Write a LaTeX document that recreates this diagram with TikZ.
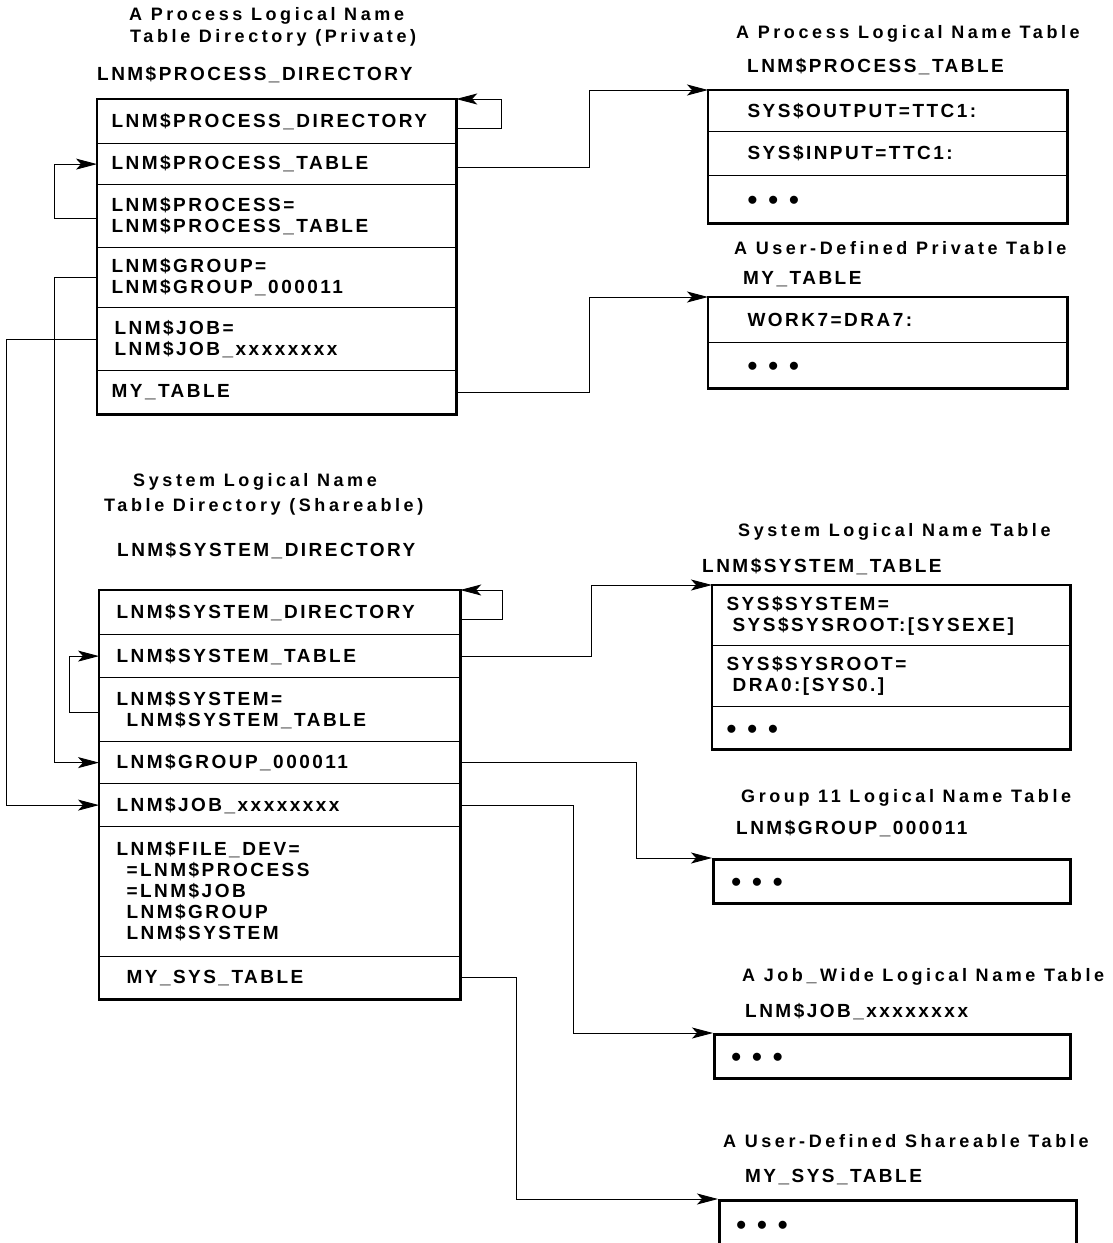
\documentclass[tikz,border=0pt]{standalone}
\usepackage{fontspec}
\setmainfont{Liberation Sans}
\newfontfamily\cellfam{Liberation Sans}[LetterSpace=13]
\newfontfamily\headfam{Liberation Sans}[LetterSpace=20]
\usetikzlibrary{arrows.meta,fit,calc}

\newcommand\celltext{\cellfam\bfseries\fontsize{19}{21}\selectfont}
\newcommand\headtext{\headfam\bfseries\fontsize{18}{20}\selectfont}
\newcommand\ellip{\raisebox{-4pt}[\height][\depth]{\fontsize{28}{28}\selectfont •\hspace{11pt}•\hspace{11pt}•}}

\tikzset{
  cell/.style={draw, line width=1.2pt, anchor=north west, inner ysep=0pt,
               align=left, font=\celltext},
  frame/.style={draw, line width=2.6pt, inner sep=0pt},
  heading/.style={anchor=west, inner sep=0pt, font=\headtext},
  tname/.style={anchor=west, inner sep=0pt, font=\celltext},
  link/.style={line width=0.9pt, -{Stealth[length=21pt,width=11pt,inset=5pt]}},
}

\begin{document}
\begin{tikzpicture}[x=1pt,y=-1pt]
\fill[white] (0,0) rectangle (1113,1243);
\useasboundingbox (0,0) rectangle (1113,1243);

% ---- process directory ----
\node[heading] (h1a) at (129,16) {A Process Logical Name};
\node[heading] (h1b) at (130,38) {Table Directory (Private)};
\node[tname] (n1) at (97,75) {LNM\$PROCESS\_DIRECTORY};

\begin{scope}[every node/.append style={inner xsep=14pt, text width=330pt}]
\node[cell, minimum height=44pt] (p1) at (97,99)  {LNM\$PROCESS\_DIRECTORY};
\node[cell, minimum height=41pt] (p2) at (97,143) {LNM\$PROCESS\_TABLE};
\node[cell, minimum height=63pt] (p3) at (97,184) {LNM\$PROCESS=\\LNM\$PROCESS\_TABLE};
\node[cell, minimum height=60pt] (p4) at (97,247) {LNM\$GROUP=\\LNM\$GROUP\_000011};
\node[cell, minimum height=63pt] (p5) at (97,307) {\hspace*{3pt}LNM\$JOB=\\\hspace*{3pt}LNM\$JOB\_xxxxxxxx};
\node[cell, minimum height=43pt] (p6) at (97,370) {MY\_TABLE};
\end{scope}
\node[frame, fit=(p1)(p6)] (pdir) {};

% ---- process table ----
\node[heading] (h2) at (736,34) {A Process Logical Name Table};
\node[tname] (n2) at (747,67) {LNM\$PROCESS\_TABLE};
\begin{scope}[every node/.append style={inner xsep=39pt, text width=280pt}]
\node[cell, minimum height=41pt] (r1a) at (708,90)  {SYS\$OUTPUT=TTC1:};
\node[cell, minimum height=44pt] (r1b) at (708,131) {SYS\$INPUT=TTC1:};
\node[cell, minimum height=47pt] (r1c) at (708,175) {\ellip};
\end{scope}
\node[frame, fit=(r1a)(r1c)] (rt1) {};

% ---- private user table ----
\node[heading] (h3) at (734,248) {A User-Defined Private Table};
\node[tname] (n3) at (743,279) {MY\_TABLE};
\begin{scope}[every node/.append style={inner xsep=39pt, text width=280pt}]
\node[cell, minimum height=45pt] (r2a) at (708,297) {WORK7=DRA7:};
\node[cell, minimum height=45pt] (r2b) at (708,342) {\ellip};
\end{scope}
\node[frame, fit=(r2a)(r2b)] (rt2) {};

% ---- system directory ----
\node[heading] (h4a) at (133,482) {System Logical Name};
\node[heading] (h4b) at (104,507) {Table Directory (Shareable)};
\node[tname] (n4) at (117,551) {LNM\$SYSTEM\_DIRECTORY};

\begin{scope}[every node/.append style={inner xsep=17pt, text width=326pt}]
\node[cell, minimum height=44pt] (s1) at (99,590) {LNM\$SYSTEM\_DIRECTORY};
\node[cell, minimum height=43pt] (s2) at (99,634) {LNM\$SYSTEM\_TABLE};
\node[cell, minimum height=64pt] (s3) at (99,677) {LNM\$SYSTEM=\\\hspace*{10pt}LNM\$SYSTEM\_TABLE};
\node[cell, minimum height=42pt] (s4) at (99,741) {LNM\$GROUP\_000011};
\node[cell, minimum height=43pt] (s5) at (99,783) {LNM\$JOB\_xxxxxxxx};
\node[cell, minimum height=130pt] (s6) at (99,826) {LNM\$FILE\_DEV=\\\hspace*{10pt}=LNM\$PROCESS\\\hspace*{10pt}=LNM\$JOB\\\hspace*{10pt}LNM\$GROUP\\\hspace*{10pt}LNM\$SYSTEM};
\node[cell, minimum height=42pt] (s7) at (99,956) {\hspace*{10pt}MY\_SYS\_TABLE};
\end{scope}
\node[frame, fit=(s1)(s7)] (sdir) {};

% ---- system table ----
\node[heading] (h5) at (738,532) {System Logical Name Table};
\node[tname] (n5) at (702,567) {LNM\$SYSTEM\_TABLE};
\begin{scope}[every node/.append style={inner xsep=14pt, text width=329pt}]
\node[cell, minimum height=60pt] (r3a) at (712,585) {SYS\$SYSTEM=\\\hspace*{6pt}SYS\$SYSROOT:[SYSEXE]};
\node[cell, minimum height=61pt] (r3b) at (712,645) {SYS\$SYSROOT=\\\hspace*{6pt}DRA0:[SYS0.]};
\node[cell, minimum height=42pt] (r3c) at (712,706) {\ellip};
\end{scope}
\node[frame, fit=(r3a)(r3c)] (rt3) {};

% ---- group table ----
\node[heading] (h6) at (741,798) {Group 11 Logical Name Table};
\node[tname] (n6) at (736,829) {LNM\$GROUP\_000011};
\node[cell, frame, anchor=north west, inner xsep=18pt, text width=321pt, minimum height=44pt] (r4) at (712,858) {\ellip};

% ---- job table ----
\node[heading] (h7) at (742,977) {A Job\_Wide Logical Name Table};
\node[tname] (n7) at (745,1012) {LNM\$JOB\_xxxxxxxx};
\node[cell, frame, anchor=north west, inner xsep=17pt, text width=322pt, minimum height=44pt] (r5) at (713,1033) {\ellip};

% ---- shareable user table ----
\node[heading] (h8) at (723,1141) {A User-Defined Shareable Table};
\node[tname] (n8) at (745,1177) {MY\_SYS\_TABLE};
\node[cell, frame, anchor=north west, inner xsep=17pt, text width=323pt, minimum height=48pt] (r6) at (718,1199) {\ellip};

% ---- connectors ----
\draw[link] ([yshift=-7pt]p1.east) -- ++(45,0) |- (p1.north east);
\draw[link] ([yshift=-2pt]p3.west) -- ++(-43,0) |- (p2.west);
\draw[link] (p4.west) -- ++(-43,0) |- (s4.west);
\draw[link] (p5.west) -- ++(-91,0) |- (s5.west);
\draw[link] ([yshift=-3pt]p2.east) -- ++(133,0) |- (r1a.north west);
\draw[link] (p6.east) -- ++(133,0) |- (r2a.north west);

\draw[link] ([yshift=-7pt]s1.east) -- ++(42,0) |- (s1.north east);
\draw[link] ([yshift=-3pt]s3.west) -- ++(-30,0) |- (s2.west);
\draw[link] (s2.east) -- ++(131,0) |- (r3a.north west);
\draw[link] (s4.east) -- ++(176,0) |- (r4.north west);
\draw[link] (s5.east) -- ++(113,0) |- (r5.north west);
\draw[link] (s7.east) -- ++(56,0) |- (r6.north west);
\end{tikzpicture}
\end{document}
